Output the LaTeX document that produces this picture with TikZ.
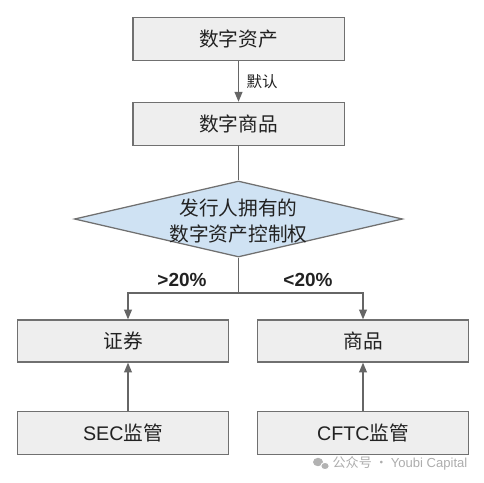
\documentclass[tikz,border=0pt]{standalone}
\usepackage{fontspec}
\setmainfont{Noto Sans CJK SC}
\newfontfamily\latin{Liberation Sans}
\usetikzlibrary{shapes.geometric,arrows.meta}
\definecolor{boxfill}{HTML}{EEEEEE}
\definecolor{boxline}{HTML}{707070}
\definecolor{diafill}{HTML}{CFE2F3}
\definecolor{wirecol}{HTML}{666666}
\definecolor{inkcol}{HTML}{222222}
\begin{document}
\begin{tikzpicture}[x=0.025cm,y=-0.025cm,
    box/.style={draw=boxline,fill=boxfill,line width=0.9pt,inner sep=0pt,
      minimum width=5.28cm,minimum height=1.08cm,text=inkcol,
      font=\fontsize{14}{16}\selectfont},
    decision/.style={diamond,draw=boxline,fill=diafill,line width=0.9pt,
      inner sep=0pt,minimum width=8.2cm,minimum height=1.9cm},
    link/.style={draw=wirecol,line width=0.9pt},
    arrow/.style={link,-{Triangle[width=5.6pt,length=7pt]}},
    cut/.style={text=inkcol,font=\latin\bfseries\fontsize{13.5}{15}\selectfont}]
  \useasboundingbox (0,0) rectangle (484,482);
  \draw
    (238.5,39) node[box] (asset){数字资产}
    (238.5,124) node[box] (goods){数字商品}
    (238.5,219) node[decision] (ctrl){}
    (238.5,221) node[align=center,text=inkcol,
      font=\fontsize{14}{18}\selectfont] (ctrltext){发行人拥有的\\数字资产控制权}
    (123,341) node[box,minimum height=1.05cm] (sec){证券}
    (363,341) node[box,minimum height=1.05cm] (comm){商品}
    (123,433) node[box] (secreg){{\latin SEC}监管}
    (363,433) node[box] (cftc){{\latin CFTC}监管};
  \coordinate (fork) at (238.5,293);
  \begin{scope}[arrow]
    \draw (asset) to node[right,xshift=2pt,text=inkcol,
      font=\fontsize{11}{13}\selectfont] (dflt){默认} (goods);
    \draw[link,-] (goods) to (ctrl);
    \draw[link,-] (ctrl) to (fork);
    \draw (fork) -| ([xshift=0.125cm]sec.north);
    \draw (fork) -| (comm.north);
    \draw ([xshift=0.125cm]secreg.north) to ([xshift=0.125cm]sec.south);
    \draw (cftc) to (comm);
  \end{scope}
  \node[cut] (over) at (182,280) {>20\%};
  \node[cut] (under) at (308,280) {<20\%};
  % watermark
  \fill[black!30] (318,462) ellipse (5 and 4.2);
  \fill[black!30,draw=white,line width=0.6pt] (325,466) ellipse (4.2 and 3.6);
  \node[text=black!32,font=\fontsize{9.3}{11}\selectfont] (wm) at (400,463)
    {公众号 · {\latin Youbi Capital}};
\end{tikzpicture}
\end{document}
